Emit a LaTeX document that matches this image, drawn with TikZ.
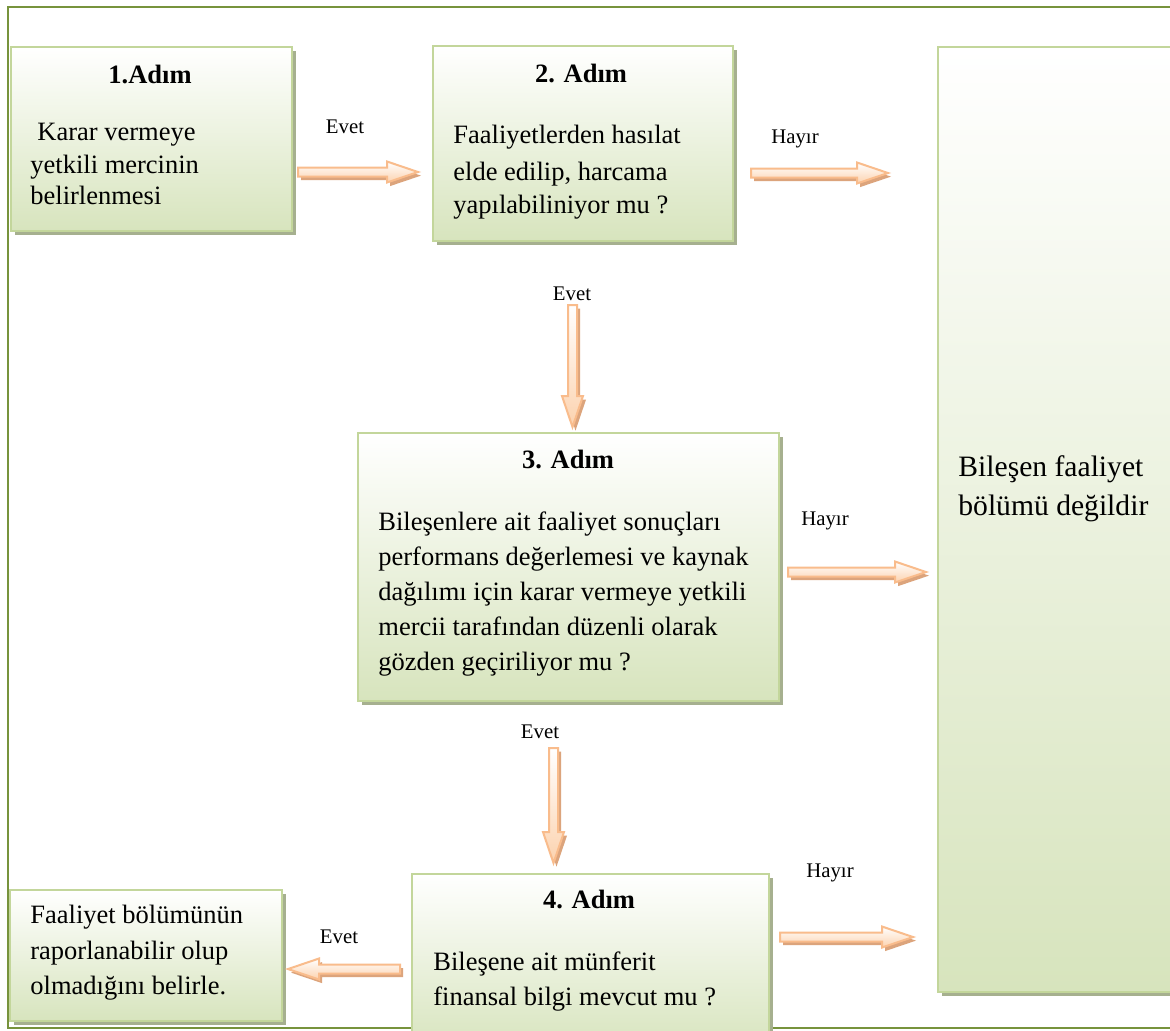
\documentclass[tikz,border=0pt]{standalone}
\usepackage{fontspec}
\setmainfont{Liberation Serif}
\usetikzlibrary{calc,shadows}

\definecolor{frameline}{HTML}{77933C}
\definecolor{boxline}{HTML}{C3D69B}
\definecolor{boxfill}{HTML}{D7E4BD}
\definecolor{boxshadow}{HTML}{A6B08F}
\definecolor{arrline}{HTML}{F9BC8C}
\definecolor{arrfill}{HTML}{FCD2AE}
\definecolor{arrshadow}{HTML}{DCA47C}

% block arrow geometry: shaft half width, head half width, head length
\def\ah{2.25pt}
\def\aH{5.25pt}
\def\ak{15.5pt}
% outline of a block arrow from tail #1 to tip #2
\def\arrowshape#1#2{%
  ($(#1)!\ah!90:(#2)$) --
  ($(#2)!\ak!(#1)+(#1)!\ah!90:(#2)-(#1)$) --
  ($(#2)!\ak!(#1)+(#1)!\aH!90:(#2)-(#1)$) --
  (#2) --
  ($(#2)!\ak!(#1)+(#1)!\aH!-90:(#2)-(#1)$) --
  ($(#2)!\ak!(#1)+(#1)!\ah!-90:(#2)-(#1)$) --
  ($(#1)!\ah!-90:(#2)$) -- cycle}

\tikzset{
  x=0.5pt, y=0.5pt,
  stepbox/.style={rectangle, draw=boxline, line width=1pt, inner sep=0pt,
    anchor=north west, top color=white, bottom color=boxfill,
    drop shadow={shadow xshift=2pt, shadow yshift=-2pt, fill=boxshadow, opacity=1}},
  blockarrow/.style={draw=arrline, line width=1pt, top color=white, bottom color=arrfill,
    drop shadow={shadow xshift=1.5pt, shadow yshift=-1.8pt, fill=arrshadow, opacity=1}},
  bodytext/.style={anchor=base west, inner sep=0pt, font=\fontsize{13.25}{16}\selectfont},
  headtext/.style={anchor=base, inner sep=0pt, font=\fontsize{13.25}{16}\selectfont\bfseries},
  bigtext/.style={anchor=base west, inner sep=0pt, font=\fontsize{14.8}{18}\selectfont},
  labeltext/.style={anchor=base, inner sep=0pt, font=\fontsize{10.4}{12}\selectfont},
}

% box from (x1,y1) to (x2,y2), y measured downwards
\newcommand\stepnode[5]{%
  \node[stepbox, minimum width={(#4-#2)*0.5pt}, minimum height={(#5-#3)*0.5pt}]
    (#1) at (#2,-#3) {};}

\begin{document}
\begin{tikzpicture}
\clip (0,0) rectangle (1170,-1030);
\fill[white] (0,0) rectangle (1170,-1030);

% outer frame
\draw[frameline, line width=1pt] (1190,-7) -- (8,-7) -- (8,-1028) -- (1190,-1028);

% boxes
\stepnode{b1}{10}{46}{291}{230}
\stepnode{b2}{432}{45}{732}{240}
\stepnode{b3}{357}{432}{778}{700}
\stepnode{b4}{411}{873}{768}{1050}
\stepnode{b5}{9}{889}{281}{1020}
\stepnode{bout}{937}{46}{1190}{991}

% box texts
\node[headtext] (h1) at (150,-83) {1.Adım};
\node[bodytext] (t1a) at (37,-140) {Karar vermeye};
\node[bodytext] (t1b) at (30,-173) {yetkili mercinin};
\node[bodytext] (t1c) at (30,-204) {belirlenmesi};

\node[headtext] (h2) at (581,-82) {2. Adım};
\node[bodytext] (t2a) at (453,-143) {Faaliyetlerden hasılat};
\node[bodytext] (t2b) at (453,-180) {elde edilip, harcama};
\node[bodytext] (t2c) at (453,-213) {yapılabiliniyor mu ?};

\node[headtext] (h3) at (568,-468) {3. Adım};
\node[bodytext] (t3a) at (378,-530) {Bileşenlere ait faaliyet sonuçları};
\node[bodytext] (t3b) at (378,-565) {performans değerlemesi ve kaynak};
\node[bodytext] (t3c) at (378,-600) {dağılımı için karar vermeye yetkili};
\node[bodytext] (t3d) at (378,-635) {mercii tarafından düzenli olarak};
\node[bodytext] (t3e) at (378,-670) {gözden geçiriliyor mu ?};

\node[headtext] (h4) at (589,-908) {4. Adım};
\node[bodytext] (t4a) at (433,-970) {Bileşene ait münferit};
\node[bodytext] (t4b) at (433,-1005) {finansal bilgi mevcut mu ?};

\node[bodytext] (t5a) at (30,-923) {Faaliyet bölümünün};
\node[bodytext] (t5b) at (30,-959) {raporlanabilir olup};
\node[bodytext] (t5c) at (30,-994) {olmadığını belirle.};

\node[bigtext] (to1) at (958,-476) {Bileşen faaliyet};
\node[bigtext] (to2) at (958,-515) {bölümü değildir};

% arrow end points
\coordinate (a1s) at (298,-172);   \coordinate (a1e) at (418,-172);
\coordinate (a2s) at (751,-173);   \coordinate (a2e) at (888,-173);
\coordinate (a3s) at (572.5,-305); \coordinate (a3e) at (572.5,-427);
\coordinate (a4s) at (788,-572);   \coordinate (a4e) at (926,-572);
\coordinate (a5s) at (553.5,-748); \coordinate (a5e) at (553.5,-863);
\coordinate (a6s) at (780,-937);   \coordinate (a6e) at (913,-937);
\coordinate (a7s) at (400,-969);   \coordinate (a7e) at (288,-969);

% block arrows
\path[blockarrow] \arrowshape{a1s}{a1e};
\path[blockarrow] \arrowshape{a2s}{a2e};
\path[blockarrow] \arrowshape{a3s}{a3e};
\path[blockarrow] \arrowshape{a4s}{a4e};
\path[blockarrow] \arrowshape{a5s}{a5e};
\path[blockarrow] \arrowshape{a6s}{a6e};
\path[blockarrow] \arrowshape{a7s}{a7e};

% arrow labels
\node[labeltext] (l1) at (345,-133) {Evet};
\node[labeltext] (l2) at (795,-143) {Hayır};
\node[labeltext] (l3) at (572,-300) {Evet};
\node[labeltext] (l4) at (825,-525) {Hayır};
\node[labeltext] (l5) at (540,-738) {Evet};
\node[labeltext] (l6) at (830,-877) {Hayır};
\node[labeltext] (l7) at (339,-943) {Evet};
\end{tikzpicture}
\end{document}
